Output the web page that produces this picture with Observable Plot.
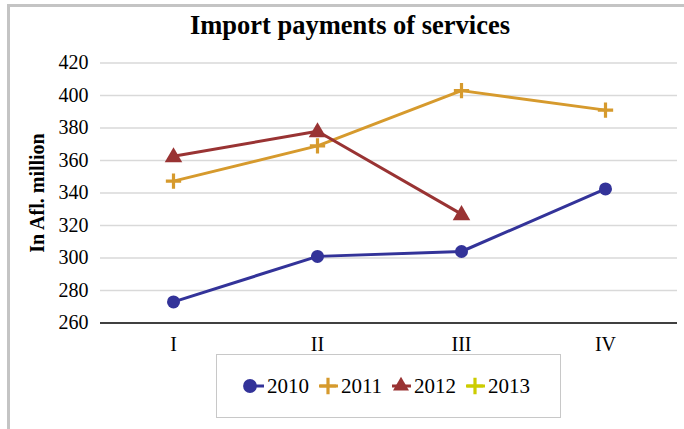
<!DOCTYPE html>
<html>
<head>
<meta charset="utf-8">
<script src="https://cdn.jsdelivr.net/npm/d3@7"></script>
<script src="https://cdn.jsdelivr.net/npm/@observablehq/plot@0.6"></script>
<style>
  html, body { margin: 0; padding: 0; background: #fff; }
  #wrap { position: relative; width: 684px; height: 429px; overflow: hidden; font-family: "Liberation Serif", "Times New Roman", serif; }
  #frame { position: absolute; left: 7px; top: 4px; width: 700px; height: 450px; border-left: 3px solid #c4c4c4; border-top: 3px solid #c4c4c4; box-sizing: border-box; }
  #title { position: absolute; left: 0; width: 700px; top: 10px; text-align: center; font-weight: bold; font-size: 26.5px; color: #000; }
  #ylabel { position: absolute; left: 37px; top: 192.5px; transform: translate(-50%, -50%) rotate(-90deg); white-space: nowrap; font-weight: bold; font-size: 20px; color: #000; }
  #chart { position: absolute; left: 0; top: 45px; }
  #chart svg text { font-family: "Liberation Serif", "Times New Roman", serif; }
  #legend { position: absolute; left: 216px; top: 354px; width: 345px; height: 64px; border: 1px solid #c8c8c8; box-sizing: border-box; background: #fff; display: flex; align-items: center; justify-content: center; gap: 6px; font-size: 21px; padding-right: 6px; }
  .item { display: flex; align-items: center; }
  .item svg { margin-right: 1px; }
</style>
</head>
<body>
<div id="wrap">
  <div id="frame"></div>
  <div id="title">Import payments of services</div>
  <div id="chart"></div>
  <div id="ylabel"></div>
  <div id="legend"></div>
</div>
<script>
const quarters = ["I", "II", "III", "IV"];
const seriesNames = ["2010", "2011", "2012", "2013"];
const values2010 = [273, 301, 304, 342.5];
const values2011 = [347.3, 369, 403, 391];
const values2012 = [362.6, 378, 327];
const values2013 = [];
const yTicks = [260, 280, 300, 320, 340, 360, 380, 400, 420];
const colors = ["#333399", "#D69A2D", "#993333", "#CCCC00"];
const symbols = ["circle", "plus", "triangle", "plus"];
const yLabel = "In Afl. million";

document.getElementById("ylabel").textContent = yLabel;

const allValues = [values2010, values2011, values2012, values2013];
const data = [];
allValues.forEach((vals, si) => vals.forEach((v, qi) => data.push({quarter: quarters[qi], value: v, series: seriesNames[si]})));

const serif = "Liberation Serif, Times New Roman, serif";

const chart = Plot.plot({
  width: 684,
  height: 315,
  marginLeft: 100,
  marginRight: 7,
  marginTop: 17.5,
  marginBottom: 37.5,
  style: {fontFamily: serif, fontSize: "20px", color: "#000", background: "transparent"},
  x: {type: "point", domain: quarters, padding: 0.5},
  y: {domain: [260, 420]},
  color: {domain: seriesNames, range: colors},
  marks: [
    Plot.gridY(yTicks.filter(t => t > 260), {stroke: "#d9d9d9", strokeOpacity: 1, strokeWidth: 1.3}),
    Plot.axisY(yTicks, {tickSize: 0, tickPadding: 12, label: null, fontSize: 20, fontFamily: serif}),
    Plot.axisX(quarters, {tickSize: 0, tickPadding: 14, label: null, fontSize: 20, fontFamily: serif}),
    Plot.ruleY([260], {stroke: "#000", strokeWidth: 1.3}),
    Plot.ruleX([0], {x: () => null, frameAnchor: "left", stroke: "#000", strokeWidth: 1.3}),
    Plot.lineY(data, {x: "quarter", y: "value", stroke: "series", z: "series", strokeWidth: 3}),
    Plot.dot(data.filter(d => d.series === "2010"), {x: "quarter", y: "value", fill: "series", r: 6.5, symbol: "circle"}),
    Plot.dot(data.filter(d => d.series === "2011" || d.series === "2013"), {x: "quarter", y: "value", stroke: "series", fill: "none", r: 5, strokeWidth: 3.2, symbol: "plus"}),
    Plot.dot(data.filter(d => d.series === "2012"), {x: "quarter", y: "value", fill: "series", r: 6.5, symbol: "triangle", dy: 1})
  ]
});
document.getElementById("chart").appendChild(chart);

// legend
const legend = d3.select("#legend");
seriesNames.forEach((name, i) => {
  const item = legend.append("div").attr("class", "item");
  const svg = item.append("svg").attr("width", 25).attr("height", 20);
  const sym = d3.symbol().type(
    symbols[i] === "circle" ? d3.symbolCircle : symbols[i] === "triangle" ? d3.symbolTriangle : d3.symbolPlus
  ).size(symbols[i] === "circle" ? 150 : symbols[i] === "triangle" ? 110 : 90);
  svg.append("line").attr("x1", 4).attr("x2", 23).attr("y1", 10).attr("y2", 10)
    .attr("stroke", colors[i]).attr("stroke-width", 3);
  const path = svg.append("path").attr("d", sym()).attr("transform", symbols[i] === "circle" ? "translate(9,10)" : "translate(13,10)");
  if (symbols[i] === "plus") path.attr("fill", "none").attr("stroke", colors[i]).attr("stroke-width", 3.2);
  else path.attr("fill", colors[i]);
  item.append("span").text(name);
});
</script>
</body>
</html>
